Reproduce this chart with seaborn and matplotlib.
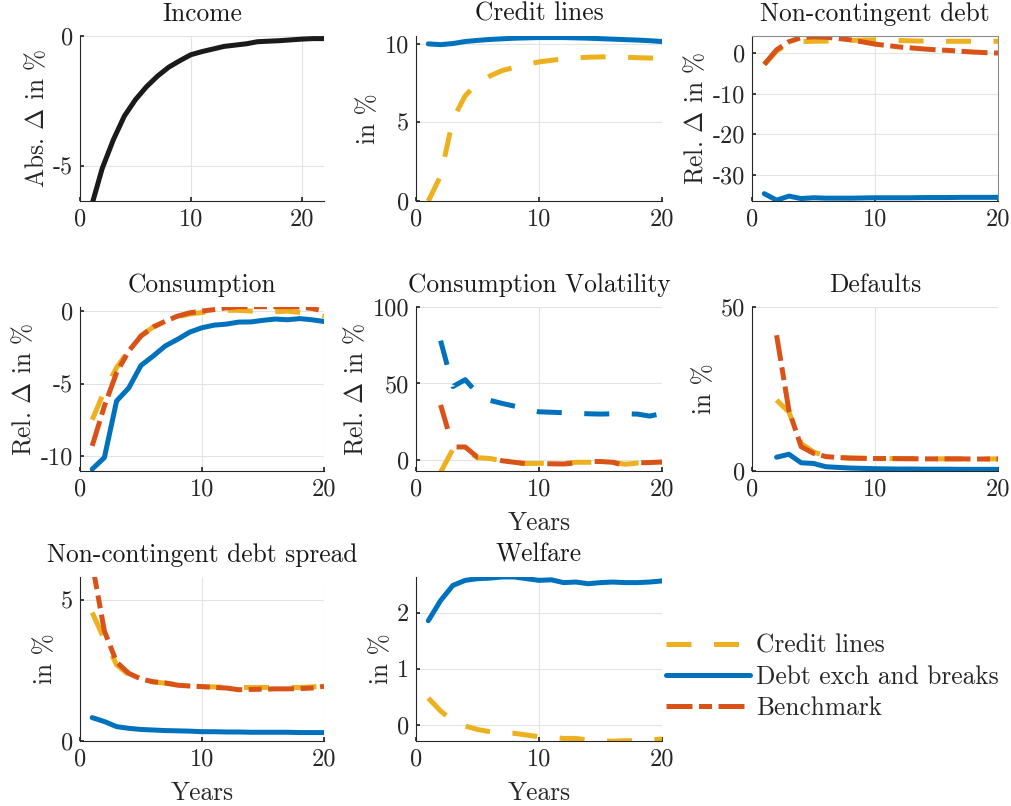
import matplotlib

matplotlib.use("Agg")
import matplotlib.pyplot as plt
import numpy as np
import seaborn as sns

# ---- data ----
years = np.arange(1, 21)
years_income = np.arange(1, 23)
years_late = np.arange(2, 21)

income = [-6.6, -5.1, -4.0, -3.08, -2.45, -1.95, -1.54, -1.2, -0.95, -0.72, -0.6,
          -0.5, -0.4, -0.35, -0.3, -0.22, -0.2, -0.18, -0.15, -0.12, -0.1, -0.1]

cl_blue = [10.0, 9.95, 10.02, 10.15, 10.22, 10.28, 10.32, 10.36, 10.38, 10.4,
           10.4, 10.4, 10.38, 10.36, 10.33, 10.3, 10.27, 10.24, 10.2, 10.15]
cl_yellow = [0.0, 1.6, 5.2, 6.7, 7.5, 7.95, 8.3, 8.5, 8.7, 8.85,
             8.95, 9.05, 9.1, 9.15, 9.17, 9.17, 9.15, 9.12, 9.1, 9.08]

ncd_blue = [-34.6, -36.2, -35.2, -35.8, -35.6, -35.7, -35.7, -35.7, -35.65, -35.6,
            -35.6, -35.6, -35.6, -35.55, -35.55, -35.55, -35.5, -35.5, -35.5, -35.5]
ncd_red = [-2.8, 0.8, 2.8, 3.8, 4.0, 3.9, 3.6, 3.25, 2.75, 2.2,
           1.85, 1.5, 1.25, 1.0, 0.8, 0.65, 0.45, 0.25, 0.1, 0.0]
ncd_yellow = [-2.8, 0.5, 2.4, 2.8, 2.9, 2.95, 3.0, 3.1, 3.2, 3.25,
              3.2, 3.1, 3.0, 2.95, 2.9, 2.9, 2.9, 2.9, 2.9, 2.9]

c_blue = [-10.9, -10.1, -6.2, -5.3, -3.75, -3.1, -2.4, -1.95, -1.45, -1.15,
          -0.97, -0.9, -0.76, -0.75, -0.64, -0.55, -0.6, -0.52, -0.6, -0.72]
c_red = [-9.3, -6.55, -4.25, -2.75, -1.72, -1.1, -0.7, -0.35, -0.12, 0.0,
         0.1, 0.22, 0.3, 0.3, 0.3, 0.3, 0.3, 0.28, 0.18, 0.0]
c_yellow = [-7.5, -5.5, -3.9, -2.7, -1.7, -1.1, -0.7, -0.4, -0.2, -0.1,
            0.0, 0.05, 0.05, 0.0, -0.05, -0.05, 0.0, -0.1, -0.2, -0.35]

cv_blue = [78, 48, 52.5, 43.5, 39, 37, 35.2, 33.5, 31.5, 31.2,
           30.9, 30.5, 30.2, 30.0, 30.2, 30.2, 30.0, 28.7, 30.4]
cv_red = [36, 8.5, 8.5, 1.8, 1.5, -0.5, -1.5, -2.5, -2.3, -2.5,
          -2.6, -2.0, -1.0, -1.0, -1.5, -3.8, -1.8, -1.7, -1.3]
cv_yellow = [-8, 7, 7, 1.5, 1.0, -0.5, -1.5, -2.3, -2.2, -2.0,
             -2.2, -1.5, -1.5, -1.5, -1.5, -2.8, -2.0, -1.7, -1.5]

d_blue = [4.2, 5.1, 2.5, 2.3, 1.3, 1.1, 0.9, 0.8, 0.7, 0.65,
          0.6, 0.6, 0.55, 0.55, 0.55, 0.5, 0.5, 0.5, 0.5]
d_red = [41.4, 18.5, 7.4, 5.4, 4.4, 4.1, 3.9, 3.85, 3.8, 3.8,
         3.75, 3.75, 3.7, 3.7, 3.7, 3.7, 3.65, 3.65, 3.65]
d_yellow = [21.6, 18.0, 8.4, 5.8, 4.6, 4.2, 4.0, 3.9, 3.85, 3.8,
            3.8, 3.75, 3.75, 3.7, 3.7, 3.7, 3.7, 3.7, 3.7]

s_blue = [0.83, 0.69, 0.51, 0.45, 0.41, 0.39, 0.37, 0.36, 0.35, 0.33,
          0.33, 0.32, 0.32, 0.31, 0.31, 0.31, 0.31, 0.30, 0.30, 0.30]
s_red = [6.3, 3.9, 2.8, 2.4, 2.2, 2.1, 2.06, 1.98, 1.95, 1.93,
         1.9, 1.88, 1.82, 1.83, 1.84, 1.85, 1.85, 1.86, 1.88, 1.94]
s_yellow = [4.56, 3.6, 2.7, 2.35, 2.2, 2.1, 2.05, 2.0, 1.96, 1.93,
            1.92, 1.91, 1.9, 1.9, 1.9, 1.9, 1.9, 1.9, 1.92, 1.95]

w_blue = [1.86, 2.22, 2.49, 2.58, 2.61, 2.62, 2.64, 2.64, 2.61, 2.58,
          2.59, 2.54, 2.55, 2.52, 2.54, 2.55, 2.54, 2.54, 2.55, 2.57]
w_yellow = [0.48, 0.25, 0.07, -0.02, -0.08, -0.12, -0.15, -0.15, -0.18, -0.21,
            -0.22, -0.24, -0.24, -0.27, -0.28, -0.29, -0.28, -0.28, -0.27, -0.25]

labels = ["Credit lines", "Debt exch and breaks", "Benchmark"]

# ---- style ----
sns.set_theme(style="whitegrid")
plt.rcParams.update({
    "font.family": ["cmr10", "DejaVu Serif"],
    "mathtext.fontset": "cm",
    "axes.unicode_minus": False,
    "axes.formatter.use_mathtext": False,
    "axes.edgecolor": "#262626",
    "axes.linewidth": 0.8,
    "grid.color": "#e3e3e3",
    "grid.linewidth": 0.8,
    "xtick.color": "#262626",
    "ytick.color": "#262626",
    "xtick.direction": "in",
    "ytick.direction": "in",
    "xtick.major.size": 3,
    "ytick.major.size": 3,
    "xtick.bottom": True,
    "ytick.left": True,
    "xtick.labelsize": 17.5,
    "ytick.labelsize": 17.5,
})

BLUE, RED, YELLOW = "#0072BD", "#D95319", "#EDB120"
LW = 3.6
DASH = (0, (5, 4.5))
DASHDOT = (0, (5.2, 1.3, 2.6, 1.3))
FS = 18.3

W, H = 1012, 806
fig = plt.figure(figsize=(W / 100, H / 100), dpi=100)


def make_ax(left, right, top, bottom):
    return fig.add_axes([left / W, 1 - bottom / H, (right - left) / W, (bottom - top) / H])


def line(ax, x, y, color, ls="-"):
    sns.lineplot(x=x, y=y, ax=ax, color=color, lw=LW, linestyle=ls)


def finish(ax, title, ylabel, ylim, yticks, xlim=(0, 20), xlabel=None, box=False):
    ax.set_xlim(*xlim)
    ax.set_ylim(*ylim)
    ax.set_xticks([0, 10, 20])
    ax.set_yticks(yticks)
    ax.set_title(title, fontsize=FS, pad=11, color="#1a1a1a")
    ax.set_ylabel(ylabel, fontsize=FS, color="#262626", labelpad=3)
    if xlabel:
        ax.set_xlabel(xlabel, fontsize=FS, color="#262626", labelpad=8)
    ax.tick_params(axis="both", pad=5)
    for side in ("top", "right"):
        ax.spines[side].set_visible(box)
        ax.spines[side].set_color("#8c8c8c")


# row 1
ax = make_ax(80, 324, 36, 201)
line(ax, years_income, income, "#1a1a1a")
finish(ax, "Income", r"Abs. $\Delta$ in %", (-6.35, 0), [-5, 0], xlim=(0, 22))

ax = make_ax(416, 662, 36, 201)
line(ax, years, cl_yellow, YELLOW, DASH)
line(ax, years, cl_blue, BLUE)
finish(ax, "Credit lines", "in %", (0, 10.5), [0, 5, 10])

ax = make_ax(752, 998, 36, 201)
line(ax, years, ncd_yellow, YELLOW, DASH)
line(ax, years, ncd_blue, BLUE)
line(ax, years, ncd_red, RED, DASHDOT)
finish(ax, "Non-contingent debt", r"Rel. $\Delta$ in %", (-36.4, 4.2),
       [-30, -20, -10, 0], box=True)
handles = ax.get_lines()[:3]

# row 2
ax = make_ax(80, 324, 307, 471)
line(ax, years, c_yellow, YELLOW, DASH)
line(ax, years, c_blue, BLUE)
line(ax, years, c_red, RED, DASHDOT)
finish(ax, "Consumption", r"Rel. $\Delta$ in %", (-11.03, 0.28), [-10, -5, 0])

ax = make_ax(416, 662, 307, 471)
line(ax, years_late, cv_yellow, YELLOW, DASH)
line(ax, years_late, cv_blue, BLUE, DASH)
line(ax, years_late, cv_red, RED, DASH)
finish(ax, "Consumption Volatility", r"Rel. $\Delta$ in %", (-7.2, 100),
       [0, 50, 100], xlabel="Years")

ax = make_ax(752, 998, 307, 471)
line(ax, years_late, d_yellow, YELLOW, DASH)
line(ax, years_late, d_blue, BLUE)
line(ax, years_late, d_red, RED, DASHDOT)
finish(ax, "Defaults", "in %", (0, 50), [0, 50])

# row 3
ax = make_ax(80, 324, 577, 741)
line(ax, years, s_yellow, YELLOW, DASH)
line(ax, years, s_blue, BLUE)
line(ax, years, s_red, RED, DASHDOT)
finish(ax, "Non-contingent debt spread", "in %", (0, 5.82), [0, 5], xlabel="Years")

ax = make_ax(416, 662, 577, 741)
line(ax, years, w_yellow, YELLOW, DASH)
line(ax, years, w_blue, BLUE)
finish(ax, "Welfare", "in %", (-0.286, 2.64), [0, 1, 2], xlabel="Years")

fig.legend(handles, labels, loc="center left", bbox_to_anchor=(666 / W, 1 - 677 / H),
           frameon=False, fontsize=FS, handlelength=3.3, handletextpad=0.25,
           labelspacing=0.3, borderaxespad=0, borderpad=0)

fig.savefig("out.png", dpi=100)
